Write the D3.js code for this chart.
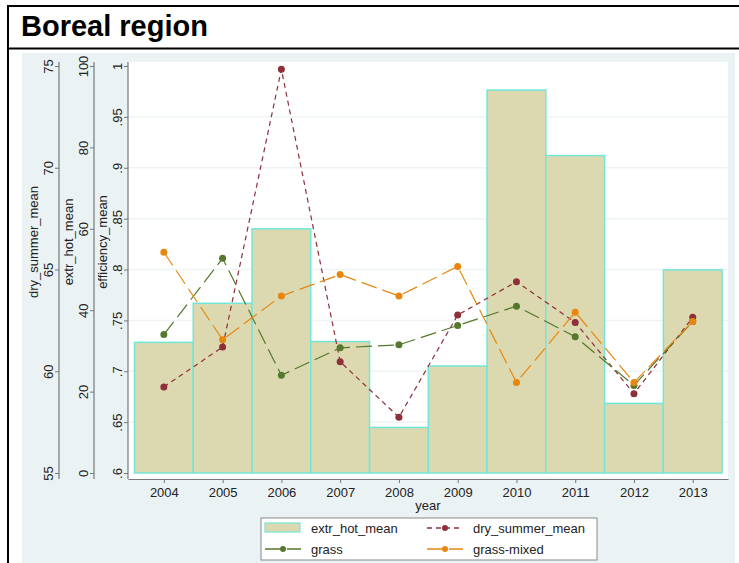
<!DOCTYPE html>
<html>
<head>
<meta charset="utf-8">
<script src="https://cdn.jsdelivr.net/npm/d3@7"></script>
<style>
  body { margin: 0; background: #fff; }
  text { font-family: "Liberation Sans", Arial, sans-serif; fill: #222; }
</style>
</head>
<body>
<div id="chart"></div>
<script>
// data
const years = [2004, 2005, 2006, 2007, 2008, 2009, 2010, 2011, 2012, 2013]
const extrHotMean = [32.1, 41.7, 60.0, 32.3, 11.2, 26.3, 94.1, 78.0, 17.1, 49.9]
const drySummerMean = [59.23, 61.19, 74.84, 60.47, 57.74, 62.76, 64.40, 62.40, 58.90, 62.65]
const grass = [0.736, 0.811, 0.696, 0.723, 0.726, 0.745, 0.764, 0.734, 0.686, 0.749]
const grassMixed = [0.817, 0.731, 0.774, 0.795, 0.774, 0.803, 0.689, 0.758, 0.689, 0.749]

const dryTicks = [55, 60, 65, 70, 75]
const hotTicks = [0, 20, 40, 60, 80, 100]
const effTicks = [0.6, 0.65, 0.7, 0.75, 0.8, 0.85, 0.9, 0.95, 1]

const WIDTH = 739
const HEIGHT = 563
const PLOT = { LEFT: 128, RIGHT: 728, TOP: 62, BOTTOM: 479 }
const Y_TOP = 66, Y_BOTTOM = 473

const BAR_FILL = "#dcd9b0"
const BAR_STROKE = "#74e6d8"
const DRY_COLOR = "#8e2f3a"
const GRASS_COLOR = "#55782c"
const MIXED_COLOR = "#e8870e"

const svg = d3.select("#chart").append("svg")
  .attr("width", WIDTH)
  .attr("height", HEIGHT)

// graph region background
svg.append("rect")
  .attr("x", 22).attr("y", 53)
  .attr("width", 713).attr("height", HEIGHT - 53)
  .attr("fill", "#eaf2f3")

svg.append("rect")
  .attr("x", PLOT.LEFT).attr("y", PLOT.TOP)
  .attr("width", PLOT.RIGHT - PLOT.LEFT).attr("height", PLOT.BOTTOM - PLOT.TOP)
  .attr("fill", "#fff")

// title box
svg.append("line").attr("x1", 8).attr("x2", WIDTH).attr("y1", 6).attr("y2", 6)
  .attr("stroke", "#000").attr("stroke-width", 2)
svg.append("line").attr("x1", 8).attr("x2", WIDTH).attr("y1", 48.5).attr("y2", 48.5)
  .attr("stroke", "#000").attr("stroke-width", 2)
svg.append("line").attr("x1", 8).attr("x2", 8).attr("y1", 5).attr("y2", HEIGHT)
  .attr("stroke", "#000").attr("stroke-width", 2)
svg.append("text")
  .attr("x", 21).attr("y", 36)
  .attr("font-size", "29px")
  .attr("font-weight", "bold")
  .style("fill", "#000")
  .text("Boreal region")

// scales
const x = d3.scaleLinear().domain([2003.39, 2013.6]).range([PLOT.LEFT, PLOT.RIGHT])
const yDry = d3.scaleLinear().domain([55, 75]).range([Y_BOTTOM, Y_TOP])
const yHot = d3.scaleLinear().domain([0, 100]).range([Y_BOTTOM, Y_TOP])
const yEff = d3.scaleLinear().domain([0.6, 1]).range([Y_BOTTOM, Y_TOP])

// grid lines at efficiency ticks
svg.append("g").selectAll("line")
  .data(effTicks.slice(1, -1))
  .enter().append("line")
  .attr("x1", PLOT.LEFT).attr("x2", PLOT.RIGHT)
  .attr("y1", d => yEff(d)).attr("y2", d => yEff(d))
  .attr("stroke", "#eef4f4").attr("stroke-width", 1.5)

// bars
const bw = x(2004.5) - x(2003.5)
svg.append("g").selectAll("rect")
  .data(years)
  .enter().append("rect")
  .attr("x", d => x(d - 0.5))
  .attr("width", bw)
  .attr("y", (d, i) => yHot(extrHotMean[i]))
  .attr("height", (d, i) => yHot(0) - yHot(extrHotMean[i]))
  .attr("fill", BAR_FILL)
  .attr("stroke", BAR_STROKE)
  .attr("stroke-width", 1.5)

// lines
function drawSeries(values, yScale, color, dash) {
  const pts = years.map((yr, i) => [x(yr), yScale(values[i])])
  svg.append("path")
    .attr("d", d3.line()(pts))
    .attr("fill", "none")
    .attr("stroke", color)
    .attr("stroke-width", 1.2)
    .attr("stroke-dasharray", dash)
  svg.append("g").selectAll("circle")
    .data(pts)
    .enter().append("circle")
    .attr("cx", d => d[0]).attr("cy", d => d[1])
    .attr("r", 3.5)
    .attr("fill", color)
}
drawSeries(drySummerMean, yDry, DRY_COLOR, "5,4")
drawSeries(grass, yEff, GRASS_COLOR, "16,6")
drawSeries(grassMixed, yEff, MIXED_COLOR, "16,6")

// left axes
function drawYAxis(scale, ticks, xPos, fmt, title) {
  const g = svg.append("g").attr("transform", `translate(${xPos}, 0)`)
  g.call(d3.axisLeft(scale).tickValues(ticks).tickFormat(fmt).tickSize(4).tickSizeOuter(0))
  g.select(".domain").remove()
  g.append("line")
    .attr("x1", 0).attr("x2", 0)
    .attr("y1", PLOT.TOP).attr("y2", PLOT.BOTTOM)
    .attr("stroke", "#777").attr("stroke-width", 1.2)
  g.selectAll(".tick line").attr("stroke", "#777")
  g.selectAll(".tick text")
    .attr("transform", "rotate(-90)")
    .attr("x", 0).attr("y", -6).attr("dy", null)
    .attr("text-anchor", "middle")
    .attr("font-size", "13px")
    .attr("font-family", null)
    .style("fill", "#222")
  g.append("text")
    .attr("transform", "rotate(-90)")
    .attr("x", -242).attr("y", -21)
    .attr("text-anchor", "middle")
    .attr("font-size", "13px")
    .text(title)
}
drawYAxis(yDry, dryTicks, 59, d3.format("d"), "dry_summer_mean")
drawYAxis(yHot, hotTicks, 94, d3.format("d"), "extr_hot_mean")
drawYAxis(yEff, effTicks, 128, d => d === 1 ? "1" : d3.format(".2~f")(d).replace(/^0/, ""), "efficiency_mean")

// x axis
const xAxis = svg.append("g").attr("transform", `translate(0, ${PLOT.BOTTOM})`)
xAxis.call(d3.axisBottom(x).tickValues(years).tickFormat(d3.format("d")).tickSize(4).tickSizeOuter(0).tickPadding(5))
xAxis.select(".domain").attr("stroke", "#777").attr("stroke-width", 1.2)
xAxis.selectAll(".tick line").attr("stroke", "#777")
xAxis.selectAll(".tick text")
  .attr("font-size", "13px")
  .attr("font-family", null)
  .style("fill", "#222")
svg.append("text")
  .attr("x", (PLOT.LEFT + PLOT.RIGHT) / 2).attr("y", 510)
  .attr("text-anchor", "middle")
  .attr("font-size", "13px")
  .text("year")

// legend
const legend = svg.append("g")
legend.append("rect")
  .attr("x", 261).attr("y", 518)
  .attr("width", 336).attr("height", 42)
  .attr("fill", "#fff").attr("stroke", "#888").attr("stroke-width", 1)

const legendItems = [
  { label: "extr_hot_mean", type: "bar", col: 0, row: 0 },
  { label: "dry_summer_mean", type: "line", color: DRY_COLOR, dash: "5,4", col: 1, row: 0 },
  { label: "grass", type: "line", color: GRASS_COLOR, dash: "16,6", col: 0, row: 1 },
  { label: "grass-mixed", type: "line", color: MIXED_COLOR, dash: "16,6", col: 1, row: 1 }
]
const colX = [265, 427]
const rowY = [528, 549]
legendItems.forEach(item => {
  const x0 = colX[item.col], y0 = rowY[item.row]
  if (item.type === "bar") {
    legend.append("rect")
      .attr("x", x0).attr("y", y0 - 5)
      .attr("width", 35).attr("height", 9)
      .attr("fill", BAR_FILL).attr("stroke", BAR_STROKE).attr("stroke-width", 1.2)
  } else {
    legend.append("line")
      .attr("x1", x0).attr("x2", x0 + 36)
      .attr("y1", y0).attr("y2", y0)
      .attr("stroke", item.color).attr("stroke-width", 1.3)
      .attr("stroke-dasharray", item.dash)
    legend.append("circle")
      .attr("cx", x0 + 18).attr("cy", y0).attr("r", 3)
      .attr("fill", item.color)
  }
  legend.append("text")
    .attr("x", x0 + 46).attr("y", y0 + 4.5)
    .attr("font-size", "13px")
    .text(item.label)
})
</script>
</body>
</html>
